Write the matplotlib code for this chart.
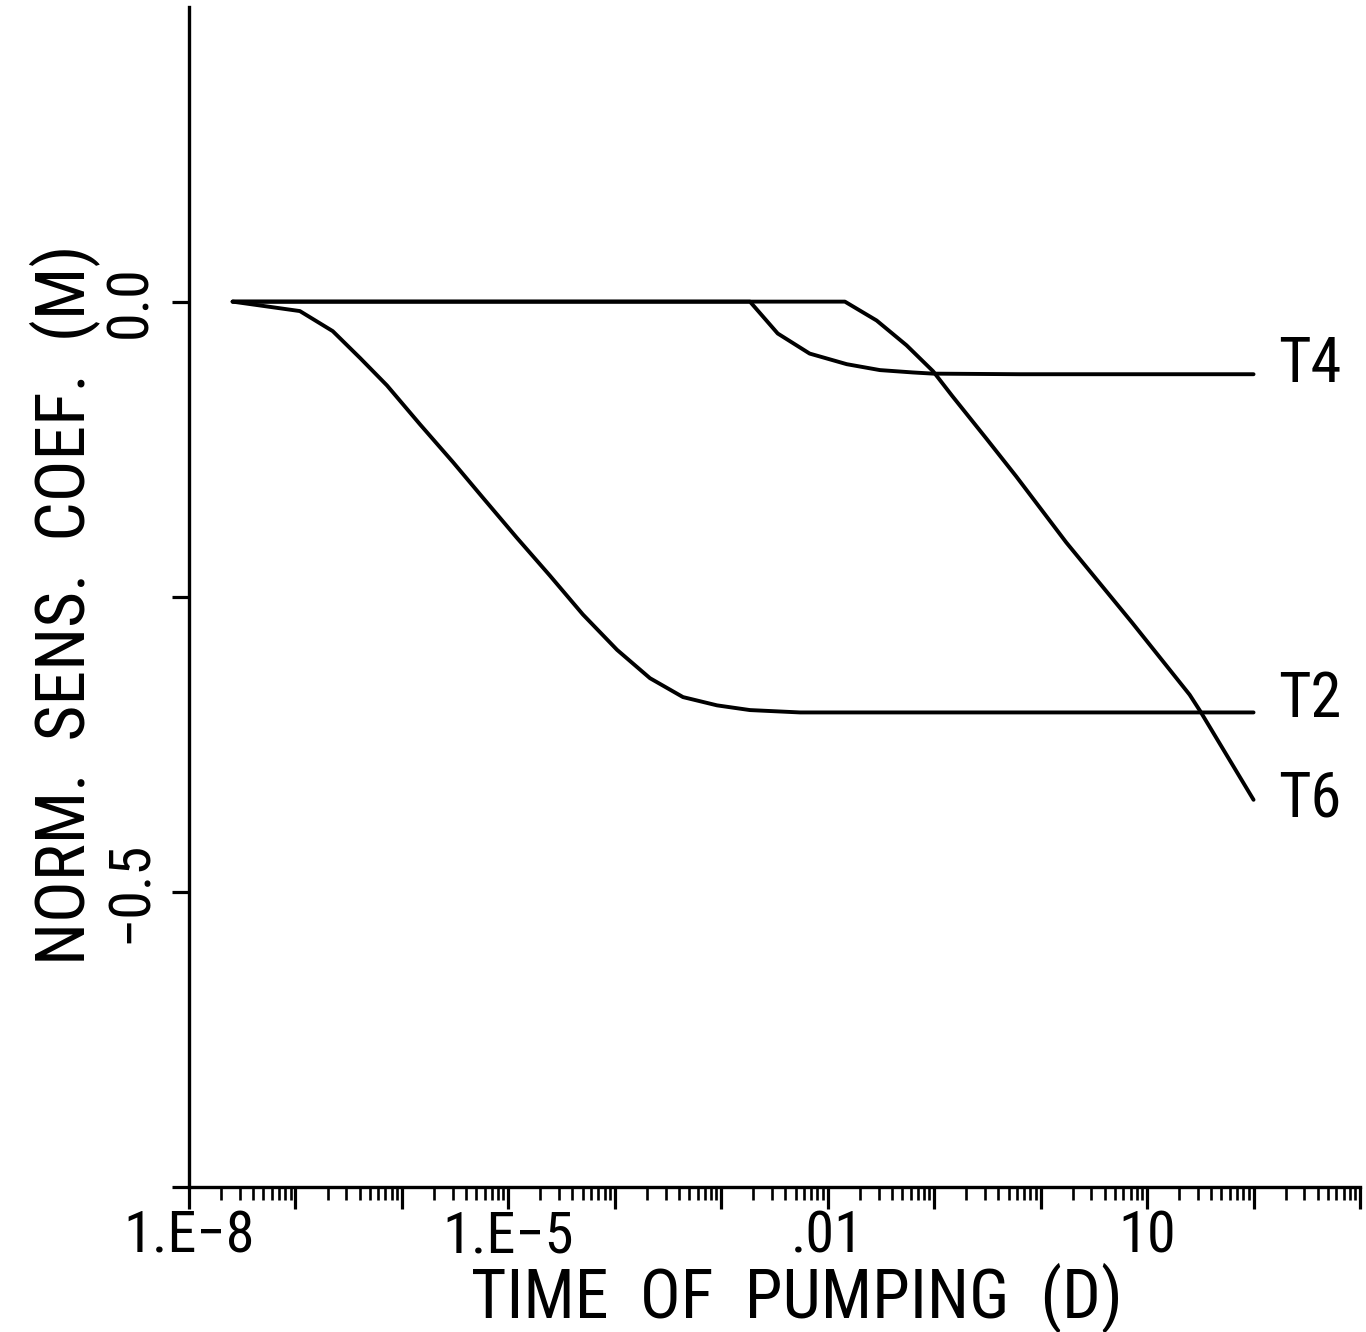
import os
import matplotlib
matplotlib.use('Agg')
import matplotlib.pyplot as plt
from matplotlib import font_manager
from matplotlib.font_manager import FontProperties
from matplotlib.ticker import LogLocator, NullFormatter

# ---- pick a narrow sans font if available ----
prefs = ['LiberationSansNarrow-Regular', 'RobotoCondensed-Regular', 'DejaVuSansCondensed.ttf']
found = {}
for f in font_manager.fontManager.ttflist:
    base = os.path.basename(f.fname)
    for p in prefs:
        if base.startswith(p) and p not in found:
            found[p] = f.fname
font_path = None
for p in prefs:
    if p in found:
        font_path = found[p]
        break
scale = 1.0 if font_path else 0.84


def fp(size):
    if font_path:
        return FontProperties(fname=font_path, size=size * scale)
    return FontProperties(family='Liberation Sans', size=size * scale)


# ---- data (time in days, normalized sensitivity coefficient in m) ----
t2_time = [2.57e-8, 1.10e-7, 2.24e-7, 4.07e-7, 7.24e-7, 1.48e-6, 3.02e-6, 5.75e-6,
           1.20e-5, 2.45e-5, 5.01e-5, 1.05e-4, 2.14e-4, 4.37e-4, 9.12e-4, 1.86e-3,
           5.50e-3, 100.0]
t2_val = [0.0, -0.008, -0.025, -0.048, -0.071, -0.104, -0.136, -0.166,
          -0.200, -0.232, -0.265, -0.295, -0.319, -0.335, -0.342, -0.346,
          -0.348, -0.348]

t4_time = [2.57e-8, 1.86e-3, 3.39e-3, 6.76e-3, 1.51e-2, 3.09e-2, 6.31e-2, 9.77e-2,
           0.631, 100.0]
t4_val = [0.0, 0.0, -0.027, -0.044, -0.053, -0.058, -0.060, -0.061, -0.0615, -0.0615]

t6_time = [2.57e-8, 1.45e-2, 2.88e-2, 5.50e-2, 9.77e-2, 0.148, 0.309, 0.589,
           1.74, 7.24, 25.1, 31.6, 100.0]
t6_val = [0.0, 0.0, -0.016, -0.037, -0.059, -0.080, -0.116, -0.148,
          -0.204, -0.272, -0.333, -0.347, -0.422]

series_names = ['T2', 'T4', 'T6']

x_major = [1e-8, 1e-7, 1e-6, 1e-5, 1e-4, 1e-3, 1e-2, 1e-1, 1e0, 1e1, 1e2, 1e3]
x_labels = ['1.E\u22128', '', '', '1.E\u22125', '', '', '.01', '', '', '10', '', '']
y_major = [0.0, -0.25, -0.5, -0.75]
y_labels = ['0.0', '', '\u22120.5', '']

# ---- figure ----
W, H = 1366, 1332
fig = plt.figure(figsize=(W / 100, H / 100), dpi=100)
ax = fig.add_axes([189 / W, 1 - 1187 / H, (1360 - 189) / W, (1187 - 6.5) / H])

lw = 2.8
for tt, vv in [(t2_time, t2_val), (t4_time, t4_val), (t6_time, t6_val)]:
    ax.plot(tt, vv, color='black', lw=lw, solid_capstyle='round', solid_joinstyle='round')

ax.set_xscale('log')
ax.set_xlim(1e-8, 1e3)
ax.set_ylim(-0.75, 0.25)

for s in ['top', 'right']:
    ax.spines[s].set_visible(False)
for s in ['left', 'bottom']:
    ax.spines[s].set_linewidth(2.4)

ax.set_xticks(x_major, labels=x_labels, fontproperties=fp(42))
ax.xaxis.set_minor_locator(LogLocator(base=10, subs=[2, 3, 4, 5, 6, 7, 8, 9], numticks=50))
ax.xaxis.set_minor_formatter(NullFormatter())
ax.set_yticks(y_major, labels=y_labels, fontproperties=fp(42), rotation=90, va='center')

ax.tick_params(axis='x', which='major', direction='out', length=16, width=2.3, pad=0)
ax.tick_params(axis='x', which='minor', direction='out', length=9.5, width=1.9)
ax.tick_params(axis='y', which='major', direction='out', length=12, width=2.3, pad=10)

# end labels
label_vals = [(t2_time[-1], t2_val[-1], series_names[0], 9),
              (t4_time[-1], t4_val[-1], series_names[1], 7),
              (t6_time[-1], t6_val[-1], series_names[2], 0)]
for xv, yv, name, dy in label_vals:
    ax.annotate(name, xy=(xv, yv), xytext=(18, dy), textcoords='offset points',
                ha='left', va='center', fontproperties=fp(45), annotation_clip=False)

fig.text(797 / W, 1 - 1317 / H, 'TIME  OF  PUMPING  (D)', ha='center', va='baseline',
         fontproperties=fp(49))
fig.text(65 / W, 1 - 605 / H, 'NORM.  SENS.  COEF.  (M)', ha='center', va='center',
         fontproperties=fp(50), rotation=90)

fig.savefig('out.png', dpi=100)
